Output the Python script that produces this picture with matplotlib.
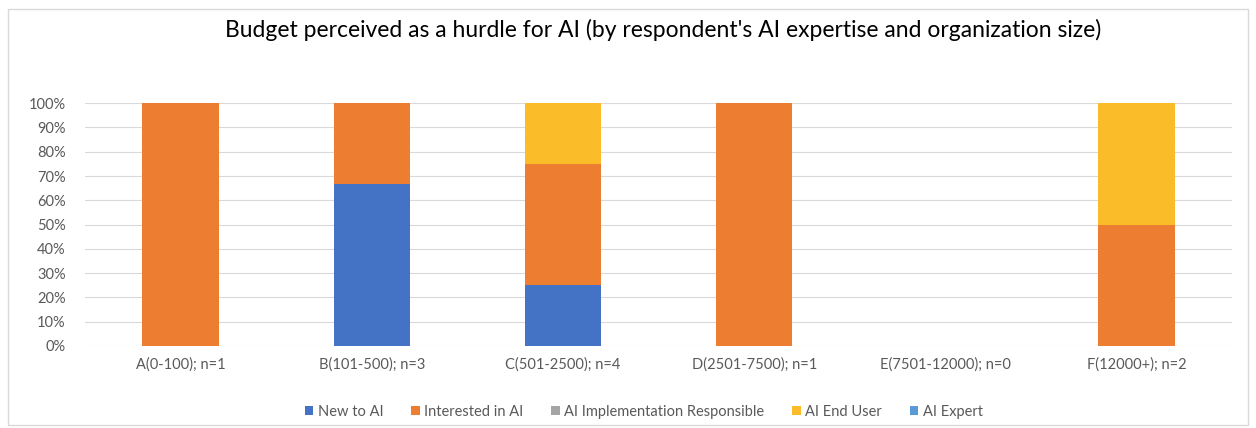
import matplotlib.pyplot as plt
import numpy as np
from matplotlib.patches import Rectangle

plt.rcParams['font.family'] = ['Lato', 'DejaVu Sans']

categories = ['A(0-100); n=1', 'B(101-500); n=3', 'C(501-2500); n=4',
              'D(2501-7500); n=1', 'E(7501-12000); n=0', 'F(12000+); n=2']
series_names = ['New to AI', 'Interested in AI', 'AI Implementation Responsible',
                'AI End User', 'AI Expert']
new_to_ai = [0, 66.67, 25, 0, 0, 0]
interested = [100, 33.33, 50, 100, 0, 50]
impl_resp = [0, 0, 0, 0, 0, 0]
end_user = [0, 0, 25, 0, 0, 50]
expert = [0, 0, 0, 0, 0, 0]
colors = ['#4472C4', '#ED7D31', '#A5A5A5', '#FBBC2A', '#5B9BD5']

fig = plt.figure(figsize=(12.56, 4.28), dpi=100)
ax = fig.add_axes([0.0677, 0.1916, 0.9133, 0.5674])

# cadre del gráfico
fig.patches.append(Rectangle((0.006, 0.006), 0.988, 0.972, transform=fig.transFigure,
                             fill=False, edgecolor='#D9D9D9', linewidth=1))

x = np.arange(len(categories))
bottom = np.zeros(len(categories))
for name, vals, c in zip(series_names, [new_to_ai, interested, impl_resp, end_user, expert], colors):
    vals = np.array(vals)
    ax.bar(x, vals, 0.4, bottom=bottom, color=c, label=name, zorder=3)
    bottom += vals

ax.set_xlim(-0.5, len(categories) - 0.5)
ax.set_ylim(0, 100)
ax.set_yticks(np.arange(0, 101, 10))
ax.set_yticklabels([f'{v}%' for v in range(0, 101, 10)])
ax.set_xticks(x)
ax.set_xticklabels(categories)
ax.tick_params(length=0, labelsize=10.5, colors='#595959')
ax.tick_params(axis='y', pad=14)
ax.tick_params(axis='x', pad=8)
ax.grid(axis='y', color='#D9D9D9', linewidth=0.8, zorder=0)
for s in ax.spines.values():
    s.set_visible(False)

fig.text(0.528, 0.93, "Budget perceived as a hurdle for AI (by respondent's AI expertise and organization size)",
         ha='center', va='center', fontsize=16.5, color='#000000')

ax.legend(loc='center', bbox_to_anchor=(0.487, -0.27), ncol=5, frameon=False,
          fontsize=10.5, handlelength=0.6, handleheight=0.6, handletextpad=0.3,
          columnspacing=1.9, labelcolor='#595959')

fig.savefig('out.png', dpi=100)
